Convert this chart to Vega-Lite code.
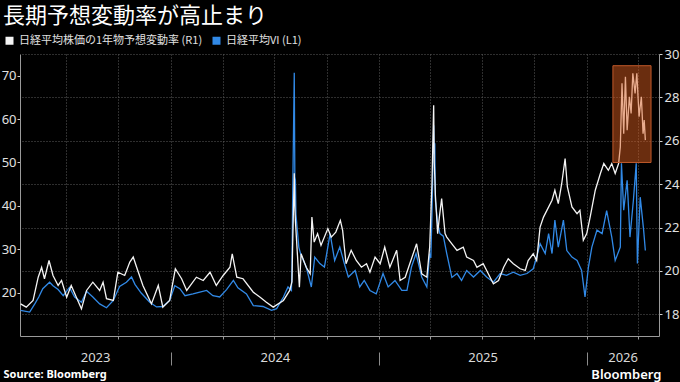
{
  "$schema": "https://vega.github.io/schema/vega-lite/v6.json",
  "width": 639,
  "height": 282,
  "autosize": {"type": "none"},
  "padding": {"left": 20, "top": 54, "right": 21, "bottom": 46},
  "background": "#000000",
  "title": {"text": "長期予想変動率が高止まり", "anchor": "start", "frame": "group", "dx": -17, "offset": 7, "fontSize": 22, "font": "Noto Sans CJK JP", "fontWeight": "normal", "color": "#ffffff"},
  "datasets": {
    "vi": [
      {"d":"2023-04-12","v":15.9},{"d":"2023-04-28","v":15.5},{"d":"2023-05-07","v":17.4},{"d":"2023-05-14","v":19.0},{"d":"2023-05-21","v":20.9},{"d":"2023-06-02","v":22.4},{"d":"2023-06-08","v":21.6},{"d":"2023-06-17","v":20.7},{"d":"2023-06-26","v":19.3},{"d":"2023-07-07","v":21.2},{"d":"2023-07-16","v":19.0},{"d":"2023-07-28","v":17.8},{"d":"2023-08-06","v":20.3},{"d":"2023-08-17","v":19.0},{"d":"2023-08-29","v":17.4},{"d":"2023-09-10","v":16.5},{"d":"2023-09-22","v":18.2},{"d":"2023-10-03","v":21.4},{"d":"2023-10-15","v":22.4},{"d":"2023-10-24","v":23.6},{"d":"2023-10-30","v":21.9},{"d":"2023-11-10","v":19.9},{"d":"2023-11-25","v":17.8},{"d":"2023-12-07","v":16.7},{"d":"2023-12-18","v":16.8},{"d":"2023-12-30","v":18.2},
      {"d":"2024-01-08","v":21.6},{"d":"2024-01-17","v":20.9},{"d":"2024-01-26","v":19.3},{"d":"2024-02-09","v":19.7},{"d":"2024-02-21","v":20.1},{"d":"2024-03-04","v":20.5},{"d":"2024-03-15","v":19.3},{"d":"2024-03-27","v":19.0},{"d":"2024-04-08","v":20.7},{"d":"2024-04-20","v":22.8},{"d":"2024-04-28","v":21.1},{"d":"2024-05-13","v":19.7},{"d":"2024-05-25","v":17.0},{"d":"2024-06-11","v":16.8},{"d":"2024-06-26","v":15.9},{"d":"2024-07-05","v":16.3},{"d":"2024-07-17","v":19.0},{"d":"2024-07-25","v":21.3},{"d":"2024-07-31","v":20.5},{"d":"2024-08-01","v":26.0},{"d":"2024-08-02","v":40.0},{"d":"2024-08-05","v":70.7},{"d":"2024-08-06","v":46.7},{"d":"2024-08-07","v":45.9},{"d":"2024-08-08","v":38.0},{"d":"2024-08-13","v":30.5},{"d":"2024-08-16","v":29.0},{"d":"2024-08-26","v":25.9},{"d":"2024-09-04","v":21.3},{"d":"2024-09-10","v":28.2},{"d":"2024-09-19","v":26.7},{"d":"2024-09-27","v":25.9},{"d":"2024-10-07","v":33.6},{"d":"2024-10-15","v":27.4},{"d":"2024-10-24","v":30.5},{"d":"2024-11-01","v":26.7},{"d":"2024-11-08","v":23.6},{"d":"2024-11-20","v":25.1},{"d":"2024-11-28","v":21.3},{"d":"2024-12-06","v":22.8},{"d":"2024-12-16","v":20.5},{"d":"2024-12-27","v":19.7},
      {"d":"2025-01-08","v":24.4},{"d":"2025-01-17","v":21.3},{"d":"2025-01-29","v":22.8},{"d":"2025-02-10","v":20.5},{"d":"2025-02-19","v":20.5},{"d":"2025-02-27","v":25.9},{"d":"2025-03-07","v":29.0},{"d":"2025-03-17","v":23.6},{"d":"2025-03-26","v":21.3},{"d":"2025-03-31","v":29.0},{"d":"2025-04-02","v":28.0},{"d":"2025-04-04","v":38.0},{"d":"2025-04-07","v":58.6},{"d":"2025-04-08","v":52.0},{"d":"2025-04-09","v":54.4},{"d":"2025-04-10","v":41.3},{"d":"2025-04-14","v":36.0},{"d":"2025-04-18","v":33.6},{"d":"2025-04-24","v":33.0},{"d":"2025-04-30","v":29.0},{"d":"2025-05-09","v":23.5},{"d":"2025-05-18","v":24.4},{"d":"2025-05-26","v":22.8},{"d":"2025-06-04","v":25.1},{"d":"2025-06-16","v":23.6},{"d":"2025-06-28","v":25.1},{"d":"2025-07-09","v":23.6},{"d":"2025-07-21","v":22.4},{"d":"2025-08-02","v":24.4},{"d":"2025-08-13","v":24.0},{"d":"2025-08-25","v":24.7},{"d":"2025-09-06","v":24.0},{"d":"2025-09-18","v":24.4},{"d":"2025-09-29","v":25.5},{"d":"2025-10-05","v":28.2},{"d":"2025-10-11","v":31.3},{"d":"2025-10-20","v":29.0},{"d":"2025-10-26","v":33.6},{"d":"2025-11-01","v":29.0},{"d":"2025-11-06","v":36.7},{"d":"2025-11-12","v":30.5},{"d":"2025-11-21","v":36.7},{"d":"2025-11-27","v":29.7},{"d":"2025-12-06","v":28.2},{"d":"2025-12-15","v":27.4},{"d":"2025-12-23","v":25.1},{"d":"2025-12-29","v":19.0},
      {"d":"2026-01-04","v":25.9},{"d":"2026-01-10","v":30.5},{"d":"2026-01-19","v":34.4},{"d":"2026-01-28","v":33.6},{"d":"2026-02-05","v":38.9},{"d":"2026-02-14","v":32.8},{"d":"2026-02-20","v":27.4},{"d":"2026-03-01","v":30.5},{"d":"2026-03-03","v":49.8},{"d":"2026-03-07","v":39.0},{"d":"2026-03-13","v":45.9},{"d":"2026-03-18","v":32.8},{"d":"2026-03-24","v":41.3},{"d":"2026-03-29","v":49.8},{"d":"2026-03-31","v":26.7},{"d":"2026-04-05","v":42.0},{"d":"2026-04-11","v":34.4},{"d":"2026-04-14","v":29.7}
    ],
    "iv": [
      {"d":"2023-04-12","v":18.48},{"d":"2023-04-22","v":18.33},{"d":"2023-05-04","v":18.64},{"d":"2023-05-13","v":19.71},{"d":"2023-05-19","v":20.17},{"d":"2023-05-24","v":19.64},{"d":"2023-06-01","v":20.48},{"d":"2023-06-08","v":19.79},{"d":"2023-06-17","v":19.33},{"d":"2023-06-23","v":19.56},{"d":"2023-07-02","v":18.79},{"d":"2023-07-10","v":19.33},{"d":"2023-07-19","v":18.79},{"d":"2023-07-28","v":18.25},{"d":"2023-08-06","v":19.10},{"d":"2023-08-17","v":19.48},{"d":"2023-08-29","v":19.10},{"d":"2023-09-04","v":19.48},{"d":"2023-09-10","v":18.72},{"d":"2023-09-22","v":18.64},{"d":"2023-09-30","v":19.94},{"d":"2023-10-12","v":19.79},{"d":"2023-10-21","v":20.41},{"d":"2023-10-27","v":20.64},{"d":"2023-11-02","v":20.17},{"d":"2023-11-13","v":19.33},{"d":"2023-11-28","v":18.48},{"d":"2023-12-10","v":19.33},{"d":"2023-12-18","v":18.33},{"d":"2023-12-30","v":18.64},
      {"d":"2024-01-09","v":20.10},{"d":"2024-01-20","v":19.64},{"d":"2024-01-29","v":19.10},{"d":"2024-02-15","v":19.71},{"d":"2024-02-27","v":19.56},{"d":"2024-03-10","v":19.94},{"d":"2024-03-21","v":19.33},{"d":"2024-04-02","v":19.79},{"d":"2024-04-14","v":20.17},{"d":"2024-04-18","v":20.79},{"d":"2024-04-26","v":19.71},{"d":"2024-05-07","v":19.64},{"d":"2024-05-25","v":19.02},{"d":"2024-06-06","v":18.79},{"d":"2024-06-17","v":18.56},{"d":"2024-06-29","v":18.33},{"d":"2024-07-17","v":18.64},{"d":"2024-07-28","v":19.10},{"d":"2024-08-01","v":19.5},{"d":"2024-08-02","v":21.0},{"d":"2024-08-05","v":24.5},{"d":"2024-08-06","v":23.0},{"d":"2024-08-07","v":22.3},{"d":"2024-08-14","v":19.25},{"d":"2024-08-17","v":20.79},{"d":"2024-08-26","v":20.17},{"d":"2024-09-02","v":19.87},{"d":"2024-09-05","v":22.48},{"d":"2024-09-09","v":21.33},{"d":"2024-09-15","v":21.72},{"d":"2024-09-21","v":21.18},{"d":"2024-10-03","v":21.95},{"d":"2024-10-09","v":21.56},{"d":"2024-10-17","v":21.79},{"d":"2024-10-25","v":22.33},{"d":"2024-10-29","v":21.87},{"d":"2024-11-04","v":20.33},{"d":"2024-11-13","v":20.95},{"d":"2024-11-22","v":20.48},{"d":"2024-12-01","v":20.17},{"d":"2024-12-10","v":20.33},{"d":"2024-12-16","v":19.94},{"d":"2024-12-25","v":20.64},
      {"d":"2025-01-03","v":20.33},{"d":"2025-01-11","v":21.10},{"d":"2025-01-20","v":20.17},{"d":"2025-02-01","v":20.95},{"d":"2025-02-07","v":19.56},{"d":"2025-02-16","v":19.71},{"d":"2025-02-24","v":20.33},{"d":"2025-03-08","v":21.25},{"d":"2025-03-17","v":19.87},{"d":"2025-03-26","v":19.71},{"d":"2025-03-31","v":21.10},{"d":"2025-04-04","v":24.0},{"d":"2025-04-07","v":27.64},{"d":"2025-04-08","v":25.0},{"d":"2025-04-09","v":24.33},{"d":"2025-04-10","v":23.5},{"d":"2025-04-14","v":21.72},{"d":"2025-04-17","v":22.48},{"d":"2025-04-21","v":23.33},{"d":"2025-04-27","v":21.72},{"d":"2025-04-30","v":21.56},{"d":"2025-05-09","v":21.25},{"d":"2025-05-18","v":20.95},{"d":"2025-05-29","v":21.10},{"d":"2025-06-04","v":20.64},{"d":"2025-06-16","v":20.48},{"d":"2025-06-22","v":20.17},{"d":"2025-07-03","v":20.33},{"d":"2025-07-12","v":19.87},{"d":"2025-07-21","v":19.41},{"d":"2025-07-30","v":19.56},{"d":"2025-08-08","v":20.17},{"d":"2025-08-16","v":20.56},{"d":"2025-08-25","v":20.33},{"d":"2025-09-06","v":20.10},{"d":"2025-09-15","v":20.02},{"d":"2025-09-20","v":20.48},{"d":"2025-09-29","v":20.79},{"d":"2025-10-05","v":20.48},{"d":"2025-10-11","v":22.02},{"d":"2025-10-17","v":22.48},{"d":"2025-10-23","v":22.79},{"d":"2025-11-01","v":23.26},{"d":"2025-11-06","v":23.72},{"d":"2025-11-12","v":23.10},{"d":"2025-11-18","v":24.02},{"d":"2025-11-24","v":25.18},{"d":"2025-11-28","v":23.87},{"d":"2025-12-06","v":22.95},{"d":"2025-12-15","v":22.64},{"d":"2025-12-20","v":22.79},{"d":"2025-12-26","v":21.41},
      {"d":"2026-01-01","v":21.72},{"d":"2026-01-07","v":22.48},{"d":"2026-01-16","v":23.72},{"d":"2026-01-25","v":24.49},{"d":"2026-01-31","v":24.95},{"d":"2026-02-08","v":24.64},{"d":"2026-02-14","v":24.95},{"d":"2026-02-20","v":24.49},{"d":"2026-02-26","v":24.95},{"d":"2026-03-01","v":25.72},{"d":"2026-03-04","v":28.65},{"d":"2026-03-07","v":26.33},{"d":"2026-03-10","v":28.95},{"d":"2026-03-13","v":26.49},{"d":"2026-03-17","v":28.03},{"d":"2026-03-20","v":27.26},{"d":"2026-03-23","v":29.11},{"d":"2026-03-27","v":28.18},{"d":"2026-03-30","v":29.11},{"d":"2026-04-03","v":27.11},{"d":"2026-04-07","v":28.03},{"d":"2026-04-10","v":26.33},{"d":"2026-04-12","v":26.95},{"d":"2026-04-14","v":26.03}
    ],
    "box": [
      {"start":"2026-02-16","end":"2026-04-24","lo":25.0,"hi":29.46}
    ]
  },
  "layer": [
    {
      "data": {"name": "vi"},
      "mark": {"type": "line", "strokeWidth": 1.3},
      "encoding": {
        "x": {"field": "d", "type": "temporal",
          "scale": {"type": "utc", "domain": [{"year": 2023, "month": 4, "date": 11, "utc": true}, {"year": 2026, "month": 5, "date": 8, "utc": true}]},
          "axis": {
            "orient": "bottom",
            "values": [
              {"year": 2023, "month": 7, "date": 1, "utc": true}, {"year": 2023, "month": 10, "date": 1, "utc": true},
              {"year": 2024, "month": 1, "date": 1, "utc": true}, {"year": 2024, "month": 4, "date": 1, "utc": true},
              {"year": 2024, "month": 7, "date": 1, "utc": true}, {"year": 2024, "month": 10, "date": 1, "utc": true},
              {"year": 2025, "month": 1, "date": 1, "utc": true}, {"year": 2025, "month": 4, "date": 1, "utc": true},
              {"year": 2025, "month": 7, "date": 1, "utc": true}, {"year": 2025, "month": 10, "date": 1, "utc": true},
              {"year": 2026, "month": 1, "date": 1, "utc": true}, {"year": 2026, "month": 4, "date": 1, "utc": true}
            ],
            "labels": false, "ticks": true, "tickSize": 3, "tickColor": "#9a9a9a",
            "domain": true, "domainColor": "#9a9a9a",
            "grid": true, "gridColor": "#5c5c5c", "gridDash": [1, 2], "gridWidth": 1,
            "title": "Source: Bloomberg", "titleX": -17, "titleY": 41, "titleAlign": "left", "titleBaseline": "alphabetic",
            "titleFont": "Noto Sans", "titleFontSize": 11, "titleFontWeight": "bold", "titleColor": "#ffffff"
          }
        },
        "y": {"field": "v", "type": "quantitative",
          "scale": {"domain": [10, 75], "nice": false, "zero": false},
          "axis": {"orient": "left", "values": [20, 30, 40, 50, 60, 70], "grid": false, "domain": true, "domainColor": "#9a9a9a",
            "ticks": true, "tickSize": 3, "tickColor": "#d0d0d0", "labelPadding": 1, "labelFontSize": 13, "labelColor": "#e0e0e0",
            "labelFont": "Noto Sans", "title": null}
        },
        "color": {"datum": "日経平均VI (L1)",
          "scale": {"domain": ["日経平均株価の1年物予想変動率 (R1)", "日経平均VI (L1)"], "range": ["#f4f4f4", "#3189e6"]},
          "legend": {"orient": "none", "legendX": -16, "legendY": -19, "direction": "horizontal", "title": null,
            "symbolType": "square", "symbolSize": 64, "symbolStrokeWidth": 0, "labelLimit": 0,
            "labelFont": "Noto Sans CJK JP", "labelFontSize": 11, "labelColor": "#e0e0e0", "columnPadding": 8, "labelOffset": 4,
            "encode": {"symbols": {"update": {"fill": {"field": "value", "scale": "color"}, "strokeWidth": {"value": 0}, "opacity": {"value": 1}}}}}
        }
      }
    },
    {
      "data": {"name": "iv"},
      "mark": {"type": "line", "strokeWidth": 1.3},
      "encoding": {
        "x": {"field": "d", "type": "temporal",
          "scale": {"type": "utc", "domain": [{"year": 2023, "month": 4, "date": 11, "utc": true}, {"year": 2026, "month": 5, "date": 8, "utc": true}]},
          "axis": {
            "orient": "bottom",
            "values": [
              {"year": 2023, "month": 8, "date": 21, "utc": true}, {"year": 2024, "month": 7, "date": 2, "utc": true},
              {"year": 2025, "month": 7, "date": 2, "utc": true}, {"year": 2026, "month": 3, "date": 5, "utc": true}
            ],
            "labelExpr": "utcFormat(datum.value, '%Y')", "ticks": false, "domain": false, "grid": false,
            "labelPadding": 15, "labelFontSize": 13, "labelColor": "#d9d9d9", "labelFont": "Noto Sans", "labelFlush": false, "labelOverlap": false,
            "title": "Bloomberg", "titleX": 641, "titleY": 42, "titleAlign": "right", "titleBaseline": "alphabetic",
            "titleFont": "Noto Sans", "titleFontSize": 13, "titleFontWeight": 600, "titleColor": "#ffffff"
          }
        },
        "y": {"field": "v", "type": "quantitative",
          "scale": {"domain": [17, 30], "nice": false, "zero": false},
          "axis": {"orient": "right", "values": [18, 20, 22, 24, 26, 28, 30], "grid": true, "gridColor": "#5c5c5c", "gridDash": [1, 2], "gridWidth": 1,
            "domain": true, "domainColor": "#9a9a9a", "ticks": true, "tickSize": 3, "tickColor": "#d0d0d0", "labelPadding": 2,
            "labelFontSize": 13, "labelColor": "#e0e0e0", "labelFont": "Noto Sans", "title": null}
        },
        "color": {"datum": "日経平均株価の1年物予想変動率 (R1)"}
      }
    },
    {
      "data": {"name": "box"},
      "mark": {"type": "rect", "fill": "#dd5f1f", "fillOpacity": 0.48, "stroke": "#c0592a", "strokeWidth": 1},
      "encoding": {
        "x": {"field": "start", "type": "temporal",
          "scale": {"type": "utc", "domain": [{"year": 2023, "month": 4, "date": 11, "utc": true}, {"year": 2026, "month": 5, "date": 8, "utc": true}]},
          "axis": {
            "orient": "bottom",
            "values": [{"year": 2024, "month": 1, "date": 1, "utc": true}, {"year": 2025, "month": 1, "date": 1, "utc": true}, {"year": 2026, "month": 1, "date": 1, "utc": true}],
            "labels": false, "ticks": true, "tickSize": 13, "tickColor": "#8c8c8c", "offset": 16, "domain": false, "grid": false, "title": null
          }
        },
        "x2": {"field": "end"},
        "y": {"field": "lo", "type": "quantitative", "scale": {"domain": [17, 30], "nice": false, "zero": false}, "axis": null},
        "y2": {"field": "hi"}
      }
    }
  ],
  "resolve": {"scale": {"y": "independent"}, "axis": {"x": "independent", "y": "independent"}},
  "config": {"view": {"stroke": null}}
}
